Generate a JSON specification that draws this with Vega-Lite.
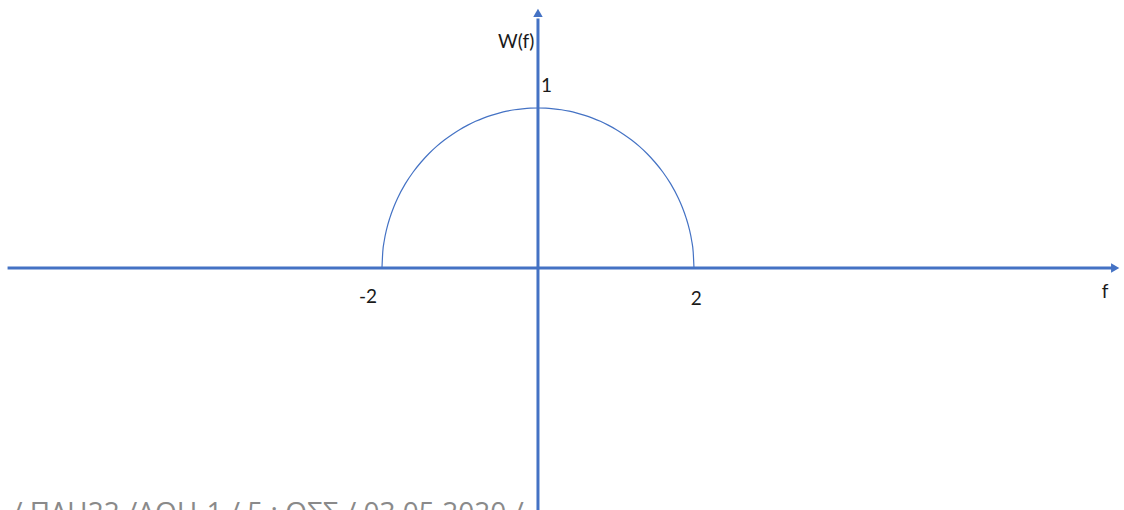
{
  "$schema": "https://vega.github.io/schema/vega-lite/v6.json",
  "width": 1124,
  "height": 510,
  "padding": 0,
  "autosize": {"type": "none"},
  "background": "white",
  "config": {"view": {"stroke": null}},
  "datasets": {
    "curve": [
      {"f": -2.0, "w": 0.0},
      {"f": -1.99, "w": 0.1},
      {"f": -1.97, "w": 0.172},
      {"f": -1.94, "w": 0.243},
      {"f": -1.9, "w": 0.312},
      {"f": -1.85, "w": 0.38},
      {"f": -1.8, "w": 0.436},
      {"f": -1.7, "w": 0.527},
      {"f": -1.6, "w": 0.6},
      {"f": -1.5, "w": 0.661},
      {"f": -1.4, "w": 0.714},
      {"f": -1.3, "w": 0.76},
      {"f": -1.2, "w": 0.8},
      {"f": -1.1, "w": 0.835},
      {"f": -1.0, "w": 0.866},
      {"f": -0.9, "w": 0.893},
      {"f": -0.8, "w": 0.917},
      {"f": -0.7, "w": 0.937},
      {"f": -0.6, "w": 0.954},
      {"f": -0.5, "w": 0.968},
      {"f": -0.4, "w": 0.98},
      {"f": -0.3, "w": 0.989},
      {"f": -0.2, "w": 0.995},
      {"f": -0.1, "w": 0.999},
      {"f": 0.0, "w": 1.0},
      {"f": 0.1, "w": 0.999},
      {"f": 0.2, "w": 0.995},
      {"f": 0.3, "w": 0.989},
      {"f": 0.4, "w": 0.98},
      {"f": 0.5, "w": 0.968},
      {"f": 0.6, "w": 0.954},
      {"f": 0.7, "w": 0.937},
      {"f": 0.8, "w": 0.917},
      {"f": 0.9, "w": 0.893},
      {"f": 1.0, "w": 0.866},
      {"f": 1.1, "w": 0.835},
      {"f": 1.2, "w": 0.8},
      {"f": 1.3, "w": 0.76},
      {"f": 1.4, "w": 0.714},
      {"f": 1.5, "w": 0.661},
      {"f": 1.6, "w": 0.6},
      {"f": 1.7, "w": 0.527},
      {"f": 1.8, "w": 0.436},
      {"f": 1.85, "w": 0.38},
      {"f": 1.9, "w": 0.312},
      {"f": 1.94, "w": 0.243},
      {"f": 1.97, "w": 0.172},
      {"f": 1.99, "w": 0.1},
      {"f": 2.0, "w": 0.0}
    ],
    "hAxis": [{"f": -6.8, "f2": 7.36, "w": 0}],
    "vAxis": [{"f": 0, "w": -1.6, "w2": 1.56}],
    "arrows": [
      {"f": 7.4, "w": 0, "dir": "right"},
      {"f": 0, "w": 1.595, "dir": "up"}
    ],
    "labels": [
      {"f": -0.28, "w": 1.41, "text": "W(f)"},
      {"f": 0.11, "w": 1.135, "text": "1"},
      {"f": -2.18, "w": -0.18, "text": "-2"},
      {"f": 2.03, "w": -0.195, "text": "2"},
      {"f": 7.27, "w": -0.15, "text": "f"}
    ],
    "footer": [{"f": -6.74, "w": -1.59, "text": "/ ΠΛΗ22 /ΑΘΗ-1 / 5 : ΟΣΣ / 03.05.2020 /"}]
  },
  "layer": [
    {
      "data": {"name": "hAxis"},
      "mark": {"type": "rule", "color": "#4472C4", "strokeWidth": 3},
      "encoding": {
        "x": {"field": "f", "type": "quantitative", "scale": {"domain": [-6.897, 7.513], "nice": false, "zero": false}, "axis": null},
        "x2": {"field": "f2"},
        "y": {"field": "w", "type": "quantitative", "scale": {"domain": [-1.5125, 1.675], "nice": false, "zero": false}, "axis": null}
      }
    },
    {
      "data": {"name": "vAxis"},
      "mark": {"type": "rule", "color": "#4472C4", "strokeWidth": 3},
      "encoding": {
        "x": {"field": "f", "type": "quantitative"},
        "y": {"field": "w", "type": "quantitative"},
        "y2": {"field": "w2"}
      }
    },
    {
      "data": {"name": "arrows"},
      "mark": {"type": "point", "filled": true, "color": "#4472C4", "opacity": 1, "size": 90},
      "encoding": {
        "x": {"field": "f", "type": "quantitative"},
        "y": {"field": "w", "type": "quantitative"},
        "shape": {"field": "dir", "type": "nominal", "scale": {"domain": ["right", "up"], "range": ["triangle-right", "triangle-up"]}, "legend": null}
      }
    },
    {
      "data": {"name": "curve"},
      "mark": {"type": "line", "color": "#4472C4", "strokeWidth": 1.2, "interpolate": "monotone"},
      "encoding": {
        "x": {"field": "f", "type": "quantitative"},
        "y": {"field": "w", "type": "quantitative"}
      }
    },
    {
      "data": {"name": "labels"},
      "mark": {"type": "text", "font": "Lato", "fontSize": 19, "color": "#1a1a1a", "align": "center", "baseline": "middle"},
      "encoding": {
        "x": {"field": "f", "type": "quantitative"},
        "y": {"field": "w", "type": "quantitative"},
        "text": {"field": "text"}
      }
    },
    {
      "data": {"name": "footer"},
      "mark": {"type": "text", "font": "Open Sans", "fontSize": 28, "color": "#8a8a8a", "align": "left", "baseline": "alphabetic"},
      "encoding": {
        "x": {"field": "f", "type": "quantitative"},
        "y": {"field": "w", "type": "quantitative"},
        "text": {"field": "text"}
      }
    }
  ]
}
